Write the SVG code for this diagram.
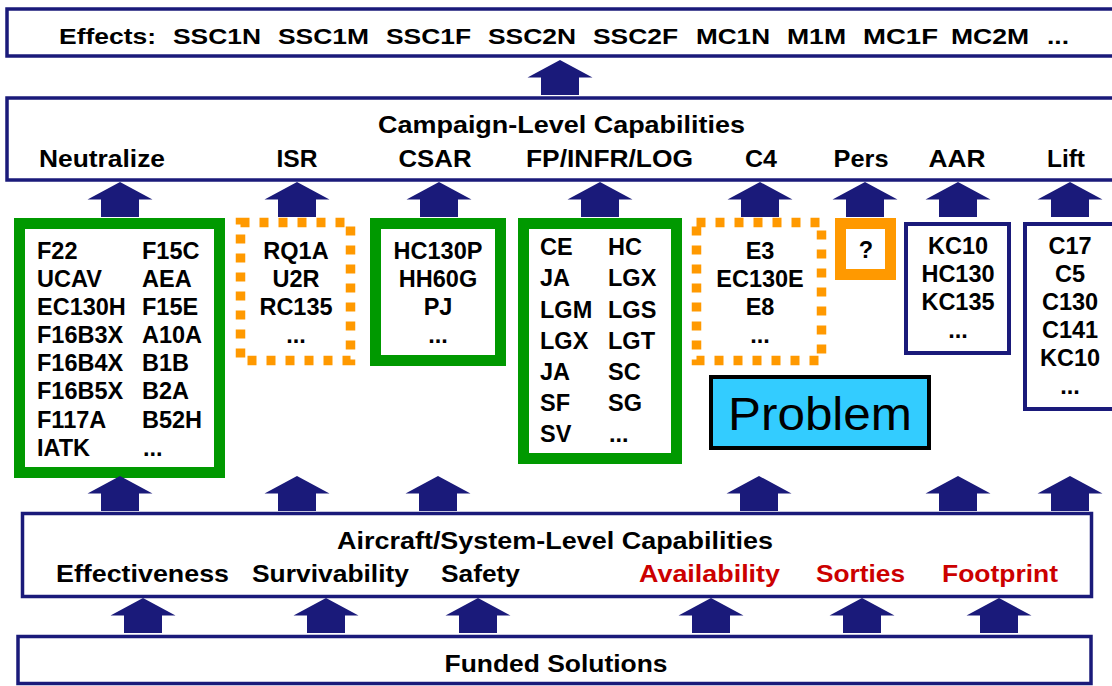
<svg xmlns="http://www.w3.org/2000/svg" xmlns:xlink="http://www.w3.org/1999/xlink" width="1112" height="686" viewBox="0 0 1112 686">
<style>
.t{font-family:"Liberation Sans",Arial,Helvetica,sans-serif;font-weight:bold;fill:#000}
.eff{font-size:22px}
.hdr{font-size:24px}
.lst{font-size:23.5px}
.red{fill:#cc0000}
.mid{text-anchor:middle}
.navy{fill:#fff;stroke:#1a1a7a;stroke-width:3.5}
.green{fill:#fff;stroke:#009900;stroke-width:11}
.dots{fill:#fff;stroke:#ff9900;stroke-width:9.5;stroke-dasharray:9 10}
.arrow{fill:#1a1a7a}
</style>
<defs>
<path id="arr" d="M0,0 L32.5,17.5 L19,17.5 L19,35 L-19,35 L-19,17.5 L-32.5,17.5 Z"/>
</defs>
<rect width="1112" height="686" fill="#fff"/>

<g id="effects">
<rect class="navy" x="7" y="9" width="1120" height="47"/>
<text class="t eff" y="44"><tspan x="59" textLength="97" lengthAdjust="spacingAndGlyphs">Effects:</tspan></text>
<text class="t eff" y="44" x="173" textLength="88" lengthAdjust="spacingAndGlyphs">SSC1N</text>
<text class="t eff" y="44" x="278" textLength="91" lengthAdjust="spacingAndGlyphs">SSC1M</text>
<text class="t eff" y="44" x="386" textLength="85" lengthAdjust="spacingAndGlyphs">SSC1F</text>
<text class="t eff" y="44" x="488" textLength="88" lengthAdjust="spacingAndGlyphs">SSC2N</text>
<text class="t eff" y="44" x="593" textLength="85" lengthAdjust="spacingAndGlyphs">SSC2F</text>
<text class="t eff" y="44" x="696" textLength="74" lengthAdjust="spacingAndGlyphs">MC1N</text>
<text class="t eff" y="44" x="787" textLength="59" lengthAdjust="spacingAndGlyphs">M1M</text>
<text class="t eff" y="44" x="863" textLength="75" lengthAdjust="spacingAndGlyphs">MC1F</text>
<text class="t eff" y="44" x="951" textLength="78" lengthAdjust="spacingAndGlyphs">MC2M</text>
<text class="t eff" y="44" x="1047" textLength="22" lengthAdjust="spacingAndGlyphs">...</text>
</g>

<g id="campaign">
<rect class="navy" x="7" y="98" width="1120" height="82"/>
<text class="t hdr mid" x="561.5" y="133" textLength="367" lengthAdjust="spacingAndGlyphs">Campaign-Level Capabilities</text>
<text class="t hdr" x="39" y="167" textLength="126" lengthAdjust="spacingAndGlyphs">Neutralize</text>
<text class="t hdr mid" x="297" y="167" textLength="41" lengthAdjust="spacingAndGlyphs">ISR</text>
<text class="t hdr mid" x="435" y="167" textLength="73" lengthAdjust="spacingAndGlyphs">CSAR</text>
<text class="t hdr mid" x="609.5" y="167" textLength="167" lengthAdjust="spacingAndGlyphs">FP/INFR/LOG</text>
<text class="t hdr mid" x="761" y="167" textLength="32" lengthAdjust="spacingAndGlyphs">C4</text>
<text class="t hdr mid" x="861" y="167" textLength="55" lengthAdjust="spacingAndGlyphs">Pers</text>
<text class="t hdr mid" x="957" y="167" textLength="57" lengthAdjust="spacingAndGlyphs">AAR</text>
<text class="t hdr mid" x="1066" y="167" textLength="38" lengthAdjust="spacingAndGlyphs">Lift</text>
</g>

<g id="neutralize">
<rect class="green" x="19.5" y="223.5" width="200" height="249"/>
<g class="t lst">
<text x="37" y="259">F22</text><text x="142" y="259">F15C</text>
<text x="37" y="287">UCAV</text><text x="142" y="287">AEA</text>
<text x="37" y="315">EC130H</text><text x="142" y="315">F15E</text>
<text x="37" y="343">F16B3X</text><text x="142" y="343">A10A</text>
<text x="37" y="371">F16B4X</text><text x="142" y="371">B1B</text>
<text x="37" y="399">F16B5X</text><text x="142" y="399">B2A</text>
<text x="37" y="428">F117A</text><text x="142" y="428">B52H</text>
<text x="37" y="456">IATK</text><text x="143" y="456">...</text>
</g>
</g>

<g id="isr">
<rect class="dots" x="240.5" y="222.5" width="110" height="138"/>
<g class="t lst mid">
<text x="296" y="259">RQ1A</text>
<text x="296" y="287">U2R</text>
<text x="296" y="315">RC135</text>
<text x="296" y="343">...</text>
</g>
</g>

<g id="csar">
<rect class="green" x="375.5" y="223.5" width="125" height="137"/>
<g class="t lst mid">
<text x="438" y="259">HC130P</text>
<text x="438" y="287">HH60G</text>
<text x="438" y="315">PJ</text>
<text x="438" y="343">...</text>
</g>
</g>

<g id="fp">
<rect class="green" x="523.5" y="223.5" width="153" height="235"/>
<g class="t lst">
<text x="540" y="255">CE</text><text x="608" y="255">HC</text>
<text x="540" y="286">JA</text><text x="608" y="286">LGX</text>
<text x="540" y="318">LGM</text><text x="608" y="318">LGS</text>
<text x="540" y="349">LGX</text><text x="608" y="349">LGT</text>
<text x="540" y="380">JA</text><text x="608" y="380">SC</text>
<text x="540" y="411">SF</text><text x="608" y="411">SG</text>
<text x="540" y="442">SV</text><text x="609" y="442">...</text>
</g>
</g>

<g id="c4">
<rect class="dots" x="696.5" y="222.5" width="125" height="138"/>
<g class="t lst mid">
<text x="760" y="259">E3</text>
<text x="760" y="287">EC130E</text>
<text x="760" y="315">E8</text>
<text x="760" y="343">...</text>
</g>
</g>

<g id="pers">
<rect x="840.5" y="223.5" width="50" height="51" fill="#fff" stroke="#ff9900" stroke-width="11"/>
<text class="t lst mid" x="866" y="258">?</text>
</g>

<g id="aar">
<rect x="906" y="224" width="103" height="129" fill="#fff" stroke="#1a1a7a" stroke-width="4"/>
<g class="t lst mid">
<text x="958" y="254">KC10</text>
<text x="958" y="282">HC130</text>
<text x="958" y="310">KC135</text>
<text x="958" y="338">...</text>
</g>
</g>

<g id="lift">
<rect x="1025" y="224" width="100" height="185" fill="#fff" stroke="#1a1a7a" stroke-width="4"/>
<g class="t lst mid">
<text x="1070" y="254">C17</text>
<text x="1070" y="282">C5</text>
<text x="1070" y="310">C130</text>
<text x="1070" y="338">C141</text>
<text x="1070" y="366">KC10</text>
<text x="1070" y="394">...</text>
</g>
</g>

<g id="problem">
<rect x="711" y="377" width="218" height="71" fill="#33ccff" stroke="#000" stroke-width="4"/>
<text x="820" y="430" text-anchor="middle" font-family="Liberation Sans, Arial, sans-serif" font-size="46" fill="#000" textLength="184" lengthAdjust="spacingAndGlyphs">Problem</text>
</g>

<g id="aircraft">
<rect class="navy" x="22.5" y="513.5" width="1069" height="83"/>
<text class="t hdr mid" x="555" y="549" textLength="436" lengthAdjust="spacingAndGlyphs">Aircraft/System-Level Capabilities</text>
<text class="t hdr" x="56" y="582" textLength="173" lengthAdjust="spacingAndGlyphs">Effectiveness</text>
<text class="t hdr" x="252" y="582" textLength="157" lengthAdjust="spacingAndGlyphs">Survivability</text>
<text class="t hdr" x="441" y="582" textLength="79" lengthAdjust="spacingAndGlyphs">Safety</text>
<text class="t hdr red" x="639" y="582" textLength="141" lengthAdjust="spacingAndGlyphs">Availability</text>
<text class="t hdr red" x="816" y="582" textLength="89" lengthAdjust="spacingAndGlyphs">Sorties</text>
<text class="t hdr red" x="942" y="582" textLength="116" lengthAdjust="spacingAndGlyphs">Footprint</text>
</g>

<g id="funded">
<rect class="navy" x="18" y="636.5" width="1073" height="47"/>
<text class="t hdr mid" x="556" y="672" textLength="223" lengthAdjust="spacingAndGlyphs">Funded Solutions</text>
</g>

<g id="connectors" class="arrow">
<use xlink:href="#arr" x="560" y="60"/>
<use xlink:href="#arr" x="120" y="182"/>
<use xlink:href="#arr" x="297" y="182"/>
<use xlink:href="#arr" x="439" y="182"/>
<use xlink:href="#arr" x="600" y="182"/>
<use xlink:href="#arr" x="760" y="182"/>
<use xlink:href="#arr" x="865" y="182"/>
<use xlink:href="#arr" x="958" y="182"/>
<use xlink:href="#arr" x="1070" y="182"/>
<use xlink:href="#arr" x="120" y="476"/>
<use xlink:href="#arr" x="297" y="476"/>
<use xlink:href="#arr" x="438" y="476"/>
<use xlink:href="#arr" x="759" y="476"/>
<use xlink:href="#arr" x="958" y="476"/>
<use xlink:href="#arr" x="1070" y="476"/>
<use xlink:href="#arr" x="143" y="598"/>
<use xlink:href="#arr" x="326" y="598"/>
<use xlink:href="#arr" x="478" y="598"/>
<use xlink:href="#arr" x="711" y="598"/>
<use xlink:href="#arr" x="862" y="598"/>
<use xlink:href="#arr" x="999" y="598"/>
</g>
</svg>
